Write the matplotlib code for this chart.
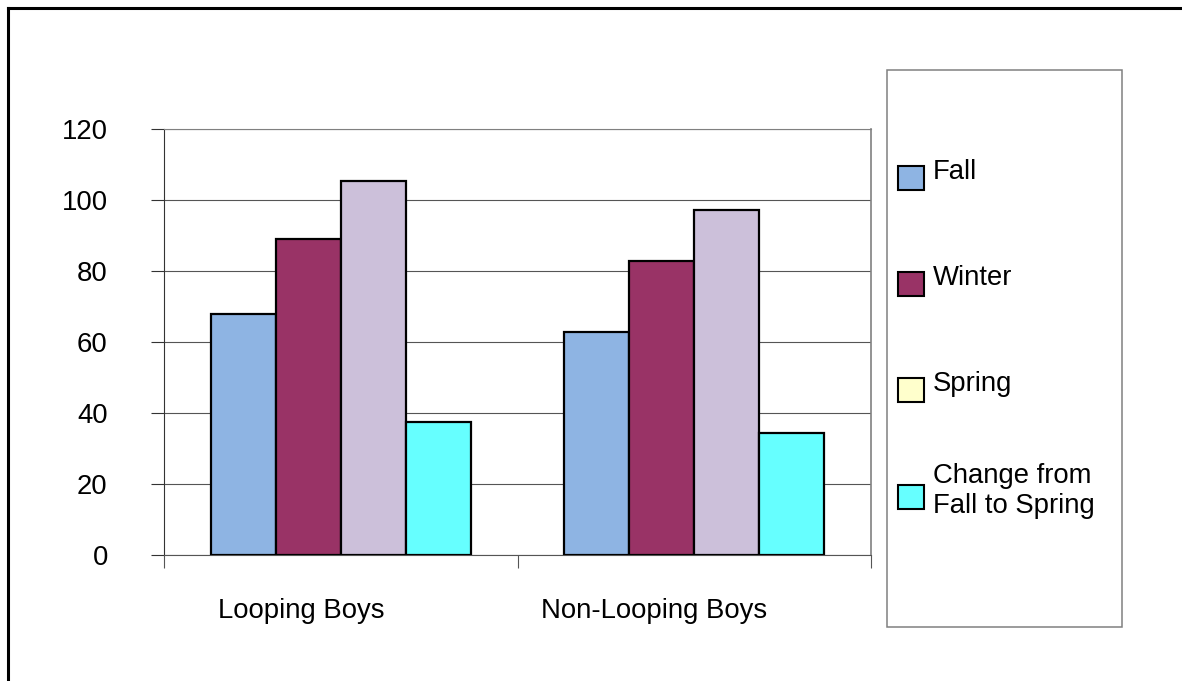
import matplotlib
matplotlib.use("Agg")
import matplotlib.pyplot as plt
import matplotlib.transforms as mtransforms
from matplotlib.patches import Rectangle
from matplotlib.lines import Line2D
import numpy as np

plt.rcParams['font.family'] = ['Liberation Sans', 'DejaVu Sans']

# Data
groups = ["Looping Boys", "Non-Looping Boys"]
series = ["Fall", "Winter", "Spring", "Change from\nFall to Spring"]
fall = [68, 63]
winter = [89, 83]
spring = [105.5, 97.3]
change = [37.5, 34.3]
values = [fall, winter, spring, change]

bar_colors = ["#8EB4E3", "#993366", "#CCC0DA", "#66FFFF"]
legend_colors = ["#8EB4E3", "#993366", "#FFFFCC", "#66FFFF"]
yticks = [0, 20, 40, 60, 80, 100, 120]

W, H = 1182, 681
DPI = 100
fig = plt.figure(figsize=(W / DPI, H / DPI), dpi=DPI)
fs = 19.8


def px(x, y):
    """pixel (from top-left) to figure fraction"""
    return x / W, 1 - y / H


# plot area
left, right, top, bottom = 164, 871, 129.3, 555
ax = fig.add_axes([left / W, 1 - bottom / H, (right - left) / W, (bottom - top) / H])

n_groups = len(groups)
n_series = len(series)
bar_w = 0.184
x = np.arange(n_groups) + 0.5
for i, (vals, col) in enumerate(zip(values, bar_colors)):
    offs = (i - (n_series - 1) / 2) * bar_w
    ax.bar(x + offs, vals, width=bar_w, color=col, edgecolor="black",
           linewidth=1.6, zorder=3)

ax.set_xlim(0, n_groups)
ax.set_ylim(0, 120)
ax.set_yticks(yticks)
ax.set_yticklabels([str(t) for t in yticks], fontsize=fs)
ax.tick_params(axis="y", direction="out", length=9.5, width=0.8, color="#333333",
               pad=31)
ax.yaxis.grid(True, color="#555555", linewidth=0.8, zorder=0)
ax.set_axisbelow(True)

# category boundaries carry tick marks, labels sit at group centres
ax.set_xticks(np.arange(n_groups + 1), minor=True)
ax.set_xticks(x)
ax.set_xticklabels(groups, fontsize=fs)
ax.tick_params(axis="x", which="minor", direction="out", length=9, width=0.8,
               color="#555555")
ax.tick_params(axis="x", which="major", length=0, pad=31)
shift = mtransforms.ScaledTranslation(-40 / DPI, 0, fig.dpi_scale_trans)
for lab in ax.get_xticklabels():
    lab.set_transform(lab.get_transform() + shift)

ax.spines["left"].set_color("#333333")
ax.spines["left"].set_linewidth(0.8)
ax.spines["bottom"].set_color("#555555")
ax.spines["bottom"].set_linewidth(0.8)
ax.spines["top"].set_color("#808080")
ax.spines["top"].set_linewidth(0.8)
ax.spines["right"].set_color("#808080")
ax.spines["right"].set_linewidth(1.2)

# legend box
lx0, ly0, lx1, ly1 = 887, 70, 1122, 627
fig.add_artist(Rectangle(px(lx0, ly1), (lx1 - lx0) / W, (ly1 - ly0) / H,
                         transform=fig.transFigure, facecolor="white",
                         edgecolor="#808080", linewidth=1.1))
first_center, spacing = 178, 106.2
pw, ph = 26, 24
for i, (lab, col) in enumerate(zip(series, legend_colors)):
    cy = first_center + i * spacing
    fig.add_artist(Rectangle(px(898, cy + ph / 2), pw / W, ph / H,
                             transform=fig.transFigure, facecolor=col,
                             edgecolor="black", linewidth=1.5))
    fig.text(*px(933, cy - 6), lab, fontsize=fs, va="center", ha="left",
             linespacing=1.2)

# outer chart border (top and left edges)
fig.add_artist(Line2D([8 / W, 1], [1 - 8 / H, 1 - 8 / H], transform=fig.transFigure,
                      color="black", linewidth=2.2))
fig.add_artist(Line2D([8 / W, 8 / W], [1 - 8 / H, 0], transform=fig.transFigure,
                      color="black", linewidth=2.2))

fig.savefig("out.png", dpi=DPI, facecolor="white")
